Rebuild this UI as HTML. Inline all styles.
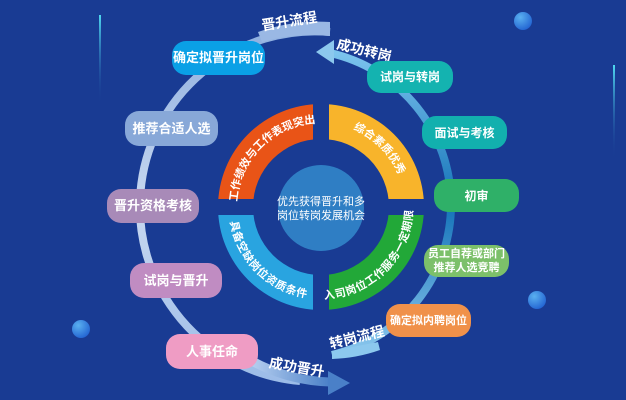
<!DOCTYPE html>
<html><head><meta charset="utf-8"><style>
body{margin:0;width:626px;height:400px;overflow:hidden;background:#193b93;font-family:"Liberation Sans","Noto Sans CJK SC",sans-serif;}
.p{position:absolute;border-radius:14px;color:#fff;font-size:13px;font-weight:bold;display:flex;align-items:center;justify-content:center;text-align:center;line-height:16px;}
</style></head><body>
<svg width="626" height="400" style="position:absolute;left:0;top:0" font-family="Liberation Sans, Noto Sans CJK SC, sans-serif">
<defs>
<linearGradient id="lg" x1="0" y1="0" x2="0" y2="1"><stop offset="0" stop-color="#8fb0e0"/><stop offset="0.5" stop-color="#c8d8f0"/><stop offset="1" stop-color="#9cbce8"/></linearGradient>
<linearGradient id="bg1" x1="0" y1="0" x2="1" y2="0"><stop offset="0" stop-color="#b8d0f0"/><stop offset="1" stop-color="#4a80c8"/></linearGradient>
<linearGradient id="rg" x1="0" y1="0" x2="0" y2="1"><stop offset="0" stop-color="#7cc4ee"/><stop offset="0.5" stop-color="#1372b8"/><stop offset="1" stop-color="#8cc8ee"/></linearGradient>
<linearGradient id="vl" x1="0" y1="0" x2="0" y2="1"><stop offset="0" stop-color="#4fd8f0"/><stop offset="1" stop-color="#193b93" stop-opacity="0"/></linearGradient>
<radialGradient id="ball" cx="0.35" cy="0.3" r="0.8"><stop offset="0" stop-color="#5ab0f0"/><stop offset="1" stop-color="#1f5fd0"/></radialGradient>
<path id="a1" d="M 237 207 A 84 84 0 0 1 321 123"/>
<path id="a2" d="M 321 123 A 84 84 0 0 1 405 207"/>
<path id="a3" d="M 233 207 A 88 88 0 0 0 321 295"/>
<path id="a4" d="M 321 295 A 88 88 0 0 0 409 207"/>
</defs>
<rect x="99" y="15" width="2" height="90" fill="url(#vl)"/>
<rect x="613" y="65" width="2" height="95" fill="url(#vl)"/>
<circle cx="523" cy="21" r="9" fill="url(#ball)"/>
<circle cx="537" cy="300" r="9" fill="url(#ball)"/>
<circle cx="81" cy="329" r="9" fill="url(#ball)"/>
<path d="M 330 32 A 175 175 0 0 0 300 381" fill="none" stroke="url(#lg)" stroke-width="8"/>
<path d="M 330 22 L 330 36 A 175 175 0 0 0 262 42 L 258 32 A 180 180 0 0 1 330 22 Z" fill="#9ab8e4"/>
<path d="M 250 360 A 175 175 0 0 0 330 382" fill="none" stroke="url(#bg1)" stroke-width="9"/>
<path d="M 328 371 L 350 383 L 328 395 Z" fill="#4a80c8"/>
<path d="M 330 53 A 155 155 0 0 1 332 355" fill="none" stroke="url(#rg)" stroke-width="8"/>
<path d="M 316 52 L 334 40 L 334 64 Z" fill="#8cc8ee"/>
<path d="M 332 351 L 332 359 A 160 160 0 0 0 380 350 L 378 342 Z" fill="#8cc8ee"/>
<path d="M 218 207 A 103 103 0 0 1 321 104 L 321 139 A 68 68 0 0 0 253 207 Z" fill="#e95417"/>
<path d="M 321 104 A 103 103 0 0 1 424 207 L 389 207 A 68 68 0 0 0 321 139 Z" fill="#f8b42b"/>
<path d="M 218 207 A 103 103 0 0 0 321 310 L 321 275 A 68 68 0 0 1 253 207 Z" fill="#29a4e0"/>
<path d="M 424 207 A 103 103 0 0 1 321 310 L 321 275 A 68 68 0 0 0 389 207 Z" fill="#22a838"/>
<rect x="313" y="100" width="16" height="214" fill="#193b93"/>
<rect x="214" y="199" width="214" height="16" fill="#193b93"/>
<g fill="#fff" font-size="11" font-weight="bold">
<text><textPath href="#a1" startOffset="50%" text-anchor="middle">工作绩效与工作表现突出</textPath></text>
<text><textPath href="#a2" startOffset="50%" text-anchor="middle">综合素质优秀</textPath></text>
<text dy="4"><textPath href="#a3" startOffset="50%" text-anchor="middle">具备空缺岗位资质条件</textPath></text>
<text dy="4"><textPath href="#a4" startOffset="50%" text-anchor="middle">入司岗位工作服务一定期限</textPath></text>
</g>
<circle cx="321" cy="208" r="43" fill="#2f7ec4"/>
<text x="321" y="205" fill="#fff" font-size="11" text-anchor="middle">优先获得晋升和多</text>
<text x="321" y="219" fill="#fff" font-size="11" text-anchor="middle">岗位转岗发展机会</text>
<g fill="#fff" font-size="14" font-weight="bold" text-anchor="middle">
<text transform="translate(290,26) rotate(-9)">晋升流程</text>
<text transform="translate(363,55) rotate(14)">成功转岗</text>
<text transform="translate(358,342) rotate(-14)">转岗流程</text>
<text transform="translate(296,372) rotate(10)">成功晋升</text>
</g>
</svg>
<div class="p" style="left:172px;top:41px;width:93px;height:34px;background:#0aa0e6">确定拟晋升岗位</div>
<div class="p" style="left:125px;top:111px;width:93px;height:35px;background:#88a8d8">推荐合适人选</div>
<div class="p" style="left:107px;top:189px;width:92px;height:34px;background:#a88ab8">晋升资格考核</div>
<div class="p" style="left:130px;top:263px;width:92px;height:35px;background:#c08cc2">试岗与晋升</div>
<div class="p" style="left:166px;top:334px;width:92px;height:35px;background:#ef9cc4">人事任命</div>
<div class="p" style="left:367px;top:61px;width:86px;height:32px;background:#14b3b0;font-size:12px">试岗与转岗</div>
<div class="p" style="left:422px;top:116px;width:85px;height:33px;background:#12b0ae;font-size:12px">面试与考核</div>
<div class="p" style="left:434px;top:179px;width:85px;height:33px;background:#2fb068;font-size:12px">初审</div>
<div class="p" style="left:424px;top:245px;width:85px;height:32px;background:#7cc06a;font-size:11px;line-height:14px">员工自荐或部门<br>推荐人选竞聘</div>
<div class="p" style="left:386px;top:304px;width:85px;height:33px;background:#f0914a;font-size:11px">确定拟内聘岗位</div>
</body></html>
